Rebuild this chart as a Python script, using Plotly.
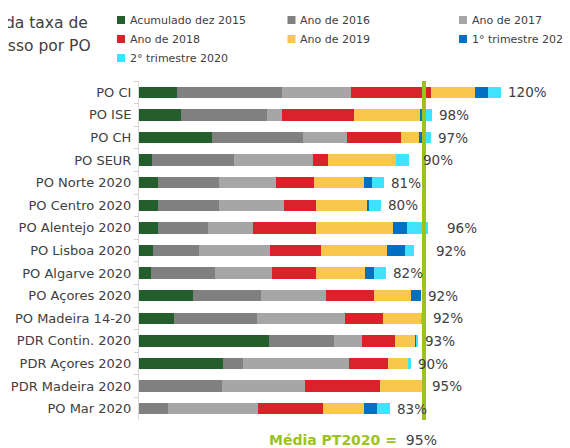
import plotly.graph_objects as go

# ---------------- data ----------------
categories = ["PO CI", "PO ISE", "PO CH", "PO SEUR", "PO Norte 2020", "PO Centro 2020",
              "PO Alentejo 2020", "PO Lisboa 2020", "PO Algarve 2020", "PO Açores 2020",
              "PO Madeira 14-20", "PDR Contin. 2020", "PDR Açores 2020", "PDR Madeira 2020",
              "PO Mar 2020"]
series_names = ["Acumulado dez 2015", "Ano de 2016", "Ano de 2017", "Ano de 2018",
                "Ano de 2019", "1° trimestre 2020", "2° trimestre 2020"]
acumulado_2015 = [12.8, 13.9, 24.2, 4.2, 6.2, 6.3, 6.3, 4.7, 4.1, 18.0, 11.7, 43.2, 27.9, 0, 0]
ano_2016 = [34.8, 28.7, 30.4, 27.4, 20.4, 20.2, 16.6, 15.3, 21.1, 22.6, 27.7, 21.7, 6.8, 27.6, 9.6]
ano_2017 = [22.9, 5.2, 14.6, 26.3, 18.9, 21.8, 15.1, 23.6, 19.0, 21.6, 29.1, 9.3, 35.4, 27.6, 30.1]
ano_2018 = [26.8, 23.8, 18.2, 5.2, 12.7, 10.6, 20.9, 17.0, 14.7, 16.2, 12.9, 11.0, 12.8, 25.1, 21.6]
ano_2019 = [14.7, 22.0, 5.8, 22.6, 16.8, 17.1, 25.8, 22.0, 16.3, 12.3, 12.6, 7.0, 7.0, 14.7, 13.7]
trim1_2020 = [4.2, 2.2, 2.3, 0, 2.8, 0.6, 4.7, 6.0, 3.2, 3.2, 0, 0.4, 0, 0, 4.2]
trim2_2020 = [4.3, 2.0, 1.7, 4.4, 3.8, 3.9, 6.8, 3.2, 4.0, 0, 1.6, 0.4, 0.6, 0.4, 4.4]
taxa_labels = ["120%", "98%", "97%", "90%", "81%", "80%", "96%", "92%", "82%", "92%",
               "92%", "93%", "90%", "95%", "83%"]
media_pt2020 = 95
media_label = "95%"

# ---------------- style ----------------
colors = ["#245E2C", "#808080", "#A6A6A6", "#DA222B", "#F9C74B", "#0070C0", "#40E3FF"]
OFF = 8                      # default body margin of the html page
W, H = 570 - OFF, 448 - OFF
ML, MT = 139 - OFF, 81 - OFF
MR, MB = 41, 28
PW, PH = W - ML - MR, H - MT - MB
FONT = "DejaVu Sans"
TXT = "#404040"
GREEN = "#9BC31C"
# extra pixel gap for a few end labels that sit further right in the reference
label_extra_gap = {"PO SEUR": 7, "PO Alentejo 2020": 12, "PO Lisboa 2020": 15}


def px_x(px):
    """page pixel x -> paper coordinate"""
    return (px - OFF - ML) / PW


def px_y(py):
    """page pixel y -> paper coordinate"""
    return 1 - (py - OFF - MT) / PH


series = [acumulado_2015, ano_2016, ano_2017, ano_2018, ano_2019, trim1_2020, trim2_2020]

fig = go.Figure()
for name, vals, col in zip(series_names, series, colors):
    fig.add_trace(go.Bar(
        y=categories, x=vals, name=name, orientation="h",
        marker=dict(color=col, line=dict(width=0)),
        showlegend=False, hoverinfo="name+x",
    ))

totals = [sum(v) for v in zip(*series)]

annotations = []
# bar end labels
for cat, tot, lab in zip(categories, totals, taxa_labels):
    annotations.append(dict(
        x=tot, y=cat, xref="x", yref="y", text=lab, showarrow=False,
        xanchor="left", yanchor="middle", xshift=5 + label_extra_gap.get(cat, 0),
        font=dict(family=FONT, size=13.5, color=TXT),
    ))

# title (partially cut off at the left edge, as in the reference)
annotations.append(dict(x=px_x(-72), y=px_y(23), xref="paper", yref="paper",
                        text="Evolução da taxa de", showarrow=False,
                        xanchor="left", yanchor="middle",
                        font=dict(family=FONT, size=15.5, color=TXT)))
annotations.append(dict(x=px_x(-72), y=px_y(46.5), xref="paper", yref="paper",
                        text="compromisso por PO", showarrow=False,
                        xanchor="left", yanchor="middle",
                        font=dict(family=FONT, size=15.5, color=TXT)))

# manual legend (3 columns)
shapes = []
leg_cols = [117, 287.5, 459]
leg_rows = [20, 39, 58]
for i, (name, col) in enumerate(zip(series_names, colors)):
    cx = leg_cols[i % 3]
    cy = leg_rows[i // 3]
    shapes.append(dict(type="rect", xref="paper", yref="paper",
                       x0=px_x(cx), x1=px_x(cx + 8), y0=px_y(cy + 4), y1=px_y(cy - 4),
                       fillcolor=col, line=dict(width=0), layer="above"))
    annotations.append(dict(x=px_x(cx + 10.5), y=px_y(cy), xref="paper", yref="paper",
                            text=name, showarrow=False, xanchor="left", yanchor="middle",
                            font=dict(family=FONT, size=11, color=TXT)))

# average line
shapes.append(dict(type="line", xref="x", yref="paper", x0=media_pt2020, x1=media_pt2020,
                   y0=0, y1=1, line=dict(color=GREEN, width=4), layer="above"))
annotations.append(dict(x=media_pt2020, y=px_y(440), xref="x", yref="paper",
                        text="<b>Média PT2020 =</b>\u00a0\u00a0<span style='color:%s'>%s</span>" % (TXT, media_label),
                        showarrow=False, xanchor="right", yanchor="middle", xshift=15,
                        font=dict(family=FONT, size=14, color=GREEN)))

fig.update_layout(
    width=W, height=H, autosize=False,
    margin=dict(l=ML, r=MR, t=MT, b=MB, pad=0, autoexpand=False),
    barmode="stack", bargap=0.5,
    paper_bgcolor="white", plot_bgcolor="white",
    font=dict(family=FONT, size=13, color=TXT),
    showlegend=False,
    xaxis=dict(range=[0, PW / 3.0], visible=False, fixedrange=True),
    yaxis=dict(type="category", categoryorder="array", categoryarray=categories,
               autorange="reversed", showline=True, linecolor="#D9D9D9", linewidth=1,
               ticks="outside", tickson="boundaries", ticklen=4, tickcolor="#D0D0D0",
               ticklabelstandoff=4,
               showgrid=False, zeroline=False,
               tickfont=dict(family=FONT, size=13, color=TXT), fixedrange=True),
    annotations=annotations, shapes=shapes,
)

fig.write_html("out.html")
